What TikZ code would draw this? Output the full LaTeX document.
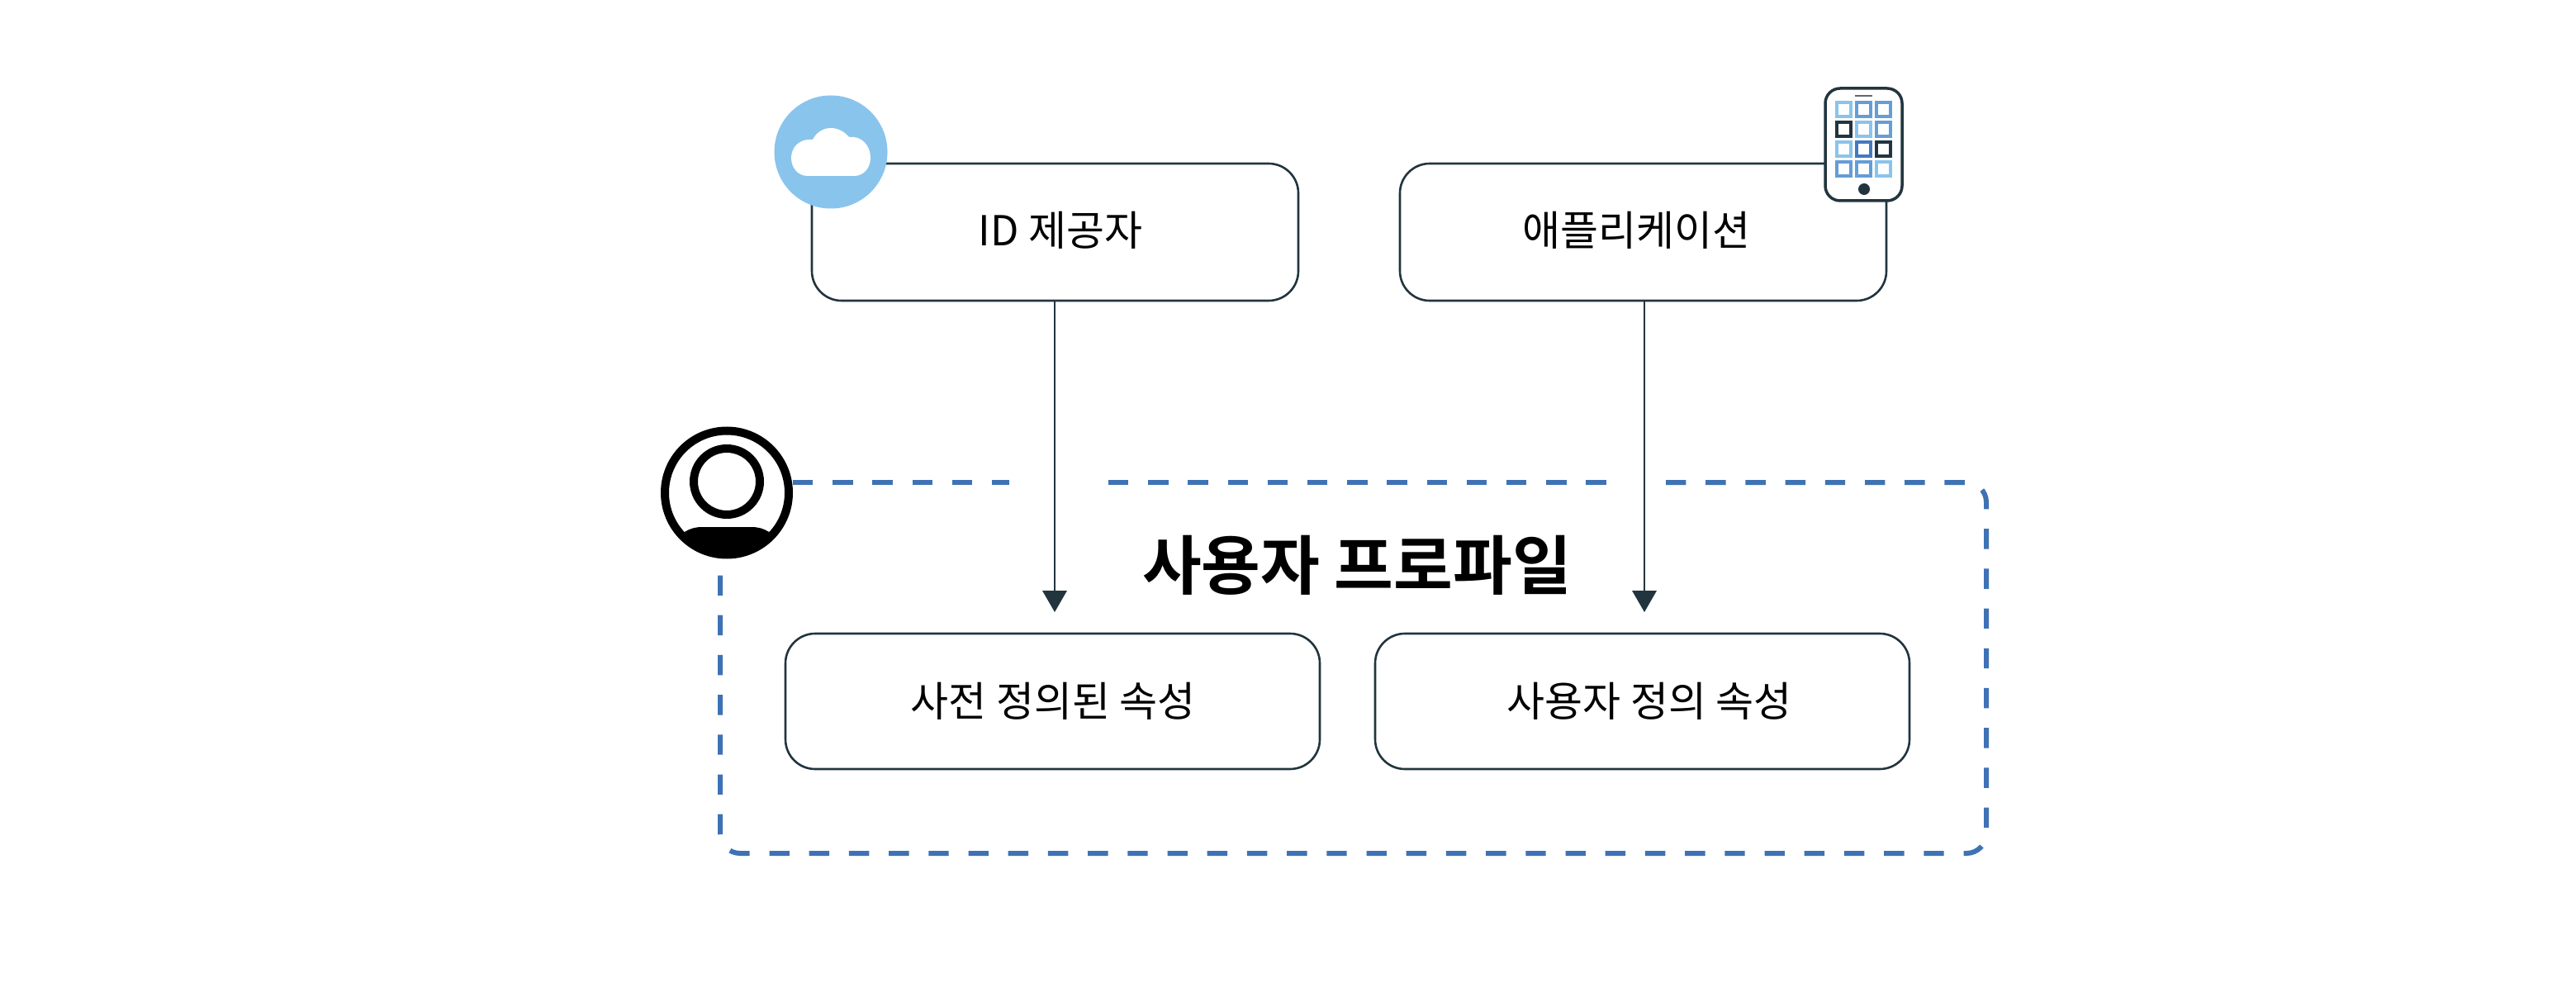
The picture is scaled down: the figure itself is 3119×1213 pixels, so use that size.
\documentclass[tikz,border=0pt]{standalone}
\usepackage{fontspec}
\newfontfamily\kr{Noto Sans CJK KR}
\newfontfamily\krb{Noto Sans CJK KR Bold}
\definecolor{ink}{HTML}{22353F}
\definecolor{dashblue}{HTML}{3F72B5}
\definecolor{sky}{HTML}{89C4EC}
\definecolor{midblue}{HTML}{659DD6}
\definecolor{deepblue}{HTML}{4579BE}
\begin{document}
\begin{tikzpicture}[x=0.5pt,y=-0.5pt,
  box/.style={draw=ink,line width=1.3pt,rounded corners=18pt,fill=white},
  lbl/.style={font=\kr\fontsize{25}{30}\selectfont,inner sep=0pt,text=black},
  ttl/.style={font=\krb\fontsize{39}{46}\selectfont,inner sep=0pt,text=black},
  conn/.style={draw=ink,line width=1.3pt},
  headtip/.style={fill=ink,draw=none},
  dashline/.style={draw=dashblue,line width=3pt,dash pattern=on 12.2pt off 11.9pt},
  tile/.style={line width=1.75pt}]
\useasboundingbox (0,0) rectangle (3119,1213);
% group outline
\coordinate (gA) at (1342,584);\coordinate (gB) at (1946,584);
\coordinate (gC) at (2017,584);\coordinate (gTR) at (2405,584);\coordinate (gBR) at (2405,1033);
\coordinate (gBL) at (872,1033);\coordinate (gV) at (872,684);
\coordinate (gD) at (960,584);\coordinate (gE) at (1222,584);
\draw[dashline] (gD) -- (gE);
\draw[dashline] (gA) -- (gB);
\draw[dashline,rounded corners=12pt] (gC) -- (gTR) -- (gBR) -- (gBL) -- (gV);
% boxes
\draw[box] (983,198) rectangle (1572,364) coordinate[pos=.5] (idc);
\draw[box] (1695,198) rectangle (2284,364) coordinate[pos=.5] (appc);
\draw[box] (951,767) rectangle (1598,931) coordinate[pos=.5] (prec);
\draw[box] (1665,767) rectangle (2312,931) coordinate[pos=.5] (cusc);
\coordinate (idb) at (1277,364);\coordinate (appb) at (1991,364);
\coordinate (t1) at (1277,741);\coordinate (t2) at (1991,741);
\coordinate (b1) at (1277,716);\coordinate (b2) at (1991,716);
\draw[conn] (idb) -- (b1);
\draw[conn] (appb) -- (b2);
\fill[headtip] (t1) -- (1262,715) -- (1292,715) -- cycle;
\fill[headtip] (t2) -- (1976,715) -- (2006,715) -- cycle;
% labels
\node[lbl] (idl) at (1284,279) {ID 제공자};
\node[lbl] (appl) at (1981,279) {애플리케이션};
\node[lbl] (prel) at (1275,849) {사전 정의된 속성};
\node[lbl] (cusl) at (1997,849) {사용자 정의 속성};
\node[ttl] (title) at (1643,684) {사용자 프로파일};
% cloud icon
\fill[sky] (1006,184) circle[radius=68.5];
\fill[white] (978,213) .. controls (966,213) and (958,203) .. (958,191)
  .. controls (958,179) and (967,169) .. (980,169) .. controls (982,169) and (983,169) .. (984,169)
  .. controls (988,161) and (996,155) .. (1006,155) .. controls (1016,155) and (1024,161) .. (1028,166)
  .. controls (1044,164) and (1054,177) .. (1054,191) .. controls (1054,203) and (1046,213) .. (1034,213) -- cycle;
% phone icon
\draw[draw=ink,line width=1.75pt,fill=white,rounded corners=9pt] (2210,107) rectangle (2303,243);
\draw[gray!80!black,line width=0.7pt] (2246,116) -- (2267,116);
\foreach \cx/\cy/\c in {2232.5/132.5/sky,2256.5/132.5/midblue,2280.5/132.5/midblue,
  2232.5/156.5/ink,2256.5/156.5/sky,2280.5/156.5/midblue,
  2232.5/180.5/sky,2256.5/180.5/deepblue,2280.5/180.5/ink,
  2232.5/204.5/midblue,2256.5/204.5/midblue,2280.5/204.5/sky}
  \draw[tile,draw=\c] (\cx-8.7,\cy-8.7) rectangle (\cx+8.7,\cy+8.7);
\fill[ink] (2257,229) circle[radius=7];
% person icon
\fill[white] (880,596.5) circle[radius=78];
\draw[black,line width=5pt] (880,596.5) circle[radius=75];
\draw[black,line width=5pt] (880,583) circle[radius=40];
\fill[black] (829,644) .. controls (835,640) and (842,638) .. (850,638) -- (910,638)
  .. controls (918,638) and (925,640) .. (931,644)
  arc[start angle=40,end angle=140,radius=-1] -- cycle;
\fill[black] (829,644) -- (850,638) -- (910,638) -- (931,644) .. controls (915,665) and (900,672) .. (880,672) .. controls (860,672) and (845,665) .. (829,644) -- cycle;
\end{tikzpicture}
\end{document}
